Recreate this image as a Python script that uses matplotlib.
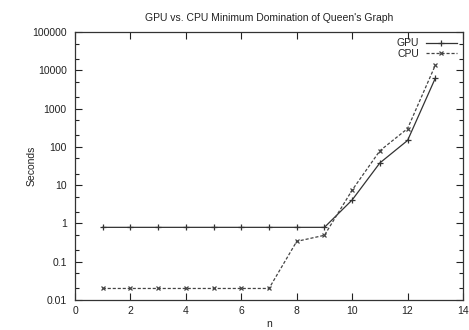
import matplotlib
matplotlib.use("Agg")
import matplotlib.pyplot as plt
from matplotlib.ticker import LogLocator

plt.rcParams["font.family"] = ["Liberation Sans", "DejaVu Sans"]

n = [1, 2, 3, 4, 5, 6, 7, 8, 9, 10, 11, 12, 13]
gpu_seconds = [0.79, 0.79, 0.79, 0.79, 0.79, 0.79, 0.79, 0.79, 0.79, 4.1, 38, 147, 6200]
cpu_seconds = [0.02, 0.02, 0.02, 0.02, 0.02, 0.02, 0.02, 0.34, 0.49, 7.4, 79, 300, 13500]
y_ticks = [0.01, 0.1, 1, 10, 100, 1000, 10000, 100000]
y_tick_labels = ["0.01", "0.1", "1", "10", "100", "1000", "10000", "100000"]
x_ticks = [0, 2, 4, 6, 8, 10, 12, 14]

fig = plt.figure(figsize=(4.69, 3.3), dpi=100)
ax = fig.add_axes([75 / 469, 30 / 330, 388 / 469, 268 / 330])

ink = "#222222"
ax.plot(n, gpu_seconds, color="#333333", linewidth=0.9, marker="+",
        markersize=5, markeredgewidth=0.9, label="GPU")
ax.plot(n, cpu_seconds, color="#444444", linewidth=0.9, linestyle=(0, (2.5, 1.5)),
        marker="x", markersize=3.5, markeredgewidth=0.9, label="CPU")

ax.set_yscale("log")
ax.set_xlim(0, 14)
ax.set_ylim(0.01, 100000)
ax.set_xticks(x_ticks)
ax.set_yticks(y_ticks)
ax.set_yticklabels(y_tick_labels)
ax.yaxis.set_minor_locator(LogLocator(base=10, subs=(2, 5)))
ax.yaxis.set_minor_formatter(plt.NullFormatter())

ax.tick_params(which="both", direction="in", top=True, right=True,
               colors=ink, labelsize=7.5, width=0.8)
ax.tick_params(which="major", length=5)
ax.tick_params(axis="y", which="major", pad=6)
ax.tick_params(axis="x", which="major", pad=4)
ax.tick_params(which="minor", length=3)
for s in ax.spines.values():
    s.set_color("#333333")
    s.set_linewidth(0.9)

ax.set_title("GPU vs. CPU Minimum Domination of Queen's Graph",
             fontsize=7.5, color=ink, pad=8)
ax.set_xlabel("n", fontsize=7.5, color=ink)
ax.xaxis.set_label_coords(0.5, -0.07)
ax.set_ylabel("Seconds", fontsize=7.5, color=ink)
ax.yaxis.set_label_coords(-38 / 388, 0.5)

leg = ax.legend(loc="upper right", frameon=False, markerfirst=False,
                fontsize=7.5, handlelength=3, handletextpad=0.6,
                labelspacing=0.05, borderaxespad=0.2)
for t in leg.get_texts():
    t.set_color(ink)

fig.savefig("out.png", dpi=100)
